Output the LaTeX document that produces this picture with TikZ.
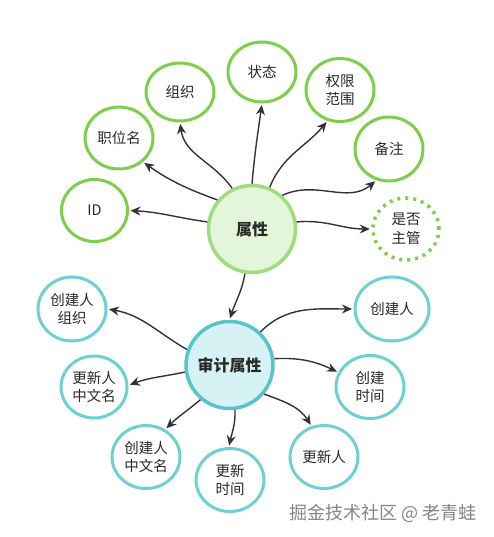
\documentclass[tikz,border=0pt]{standalone}
\usepackage{fontspec}
\setmainfont{Noto Sans CJK SC}
\usetikzlibrary{arrows.meta,shapes.geometric,shadows}
\definecolor{gborder}{HTML}{7DCF4A}
\definecolor{gcenter}{HTML}{9EDC7E}
\definecolor{gfill}{HTML}{E3F6D9}
\definecolor{tborder}{HTML}{6DD0D3}
\definecolor{tcenter}{HTML}{55C5C9}
\definecolor{tfill}{HTML}{D6F2F4}
\definecolor{txt}{HTML}{2A2A2A}
\definecolor{edge}{HTML}{333333}
\definecolor{wmgray}{HTML}{858585}
\tikzset{
  leafg/.style={ellipse,draw=gborder,line width=3pt,fill=white,minimum width=#1,minimum height=62pt,inner sep=0pt,align=center,font=\fontsize{14.5}{18.5}\selectfont,text=txt},
  leafg/.default=66pt,
  leaft/.style={ellipse,draw=tborder,line width=3pt,fill=white,minimum width=#1,minimum height=62pt,inner sep=0pt,align=center,font=\fontsize{14.5}{18.5}\selectfont,text=txt},
  leaft/.default=66pt,
  hubg/.style={circle,draw=gcenter,line width=3.5pt,fill=gfill,minimum size=87pt,inner sep=0pt,font=\fontsize{16}{19}\selectfont\bfseries,text=txt},
  hubt/.style={circle,draw=tcenter,line width=3.5pt,fill=tfill,minimum size=87pt,inner sep=0pt,font=\fontsize{16}{19}\selectfont\bfseries,text=txt},
  conn/.style={draw=edge,line width=1.4pt,-{Stealth[length=10pt,width=9pt]},shorten >=1.5pt},
}
\begin{document}
\begin{tikzpicture}[x=1pt,y=1pt]
\useasboundingbox (0,0) rectangle (494,-537);
% hubs
\node[hubg] (attr) at (252,-229) {属性};
\node[hubt] (audit) at (229.5,-365) {审计属性};
% green leaves
\node[leafg] (id) at (94.5,-210.5) {ID};
\node[leafg=68pt] (pos) at (119,-138) {职位名};
\node[leafg=68pt,minimum height=58pt] (org) at (180,-92) {组织};
\node[leafg=68pt,minimum height=60pt] (state) at (262,-72) {状态};
\node[leafg=68pt,minimum height=63pt] (perm) at (340,-90) {权限\\范围};
\node[leafg=68pt,minimum height=64pt] (note) at (389,-149) {备注};
\node[leafg=66pt,minimum height=62pt,draw=gborder,dash pattern=on 3pt off 5pt,line width=3.5pt] (mgr) at (406,-229) {是否\\主管};
% teal leaves
\node[leaft=68pt,minimum height=64pt] (corg) at (72,-309) {创建人\\组织};
\node[leaft=66pt] (uname) at (94,-387) {更新人\\中文名};
\node[leaft=68pt,minimum height=63pt] (cname) at (146,-457) {创建人\\中文名};
\node[leaft=68pt,minimum height=63pt] (utime) at (230,-480) {更新\\时间};
\node[leaft=68pt,minimum height=63pt] (uby) at (324,-457) {更新人};
\node[leaft=68pt,minimum height=63pt] (ctime) at (370,-387) {创建\\时间};
\node[leaft=74pt,minimum height=64pt] (cby) at (392,-309) {创建人};
% connectors from 属性
\draw[conn] (attr.171) to[out=172,in=-3] (id.0);
\draw[conn] (attr.140) to[out=160,in=-35] (pos.-45);
\draw[conn] (attr.116) to[out=125,in=-82] (org.-90);
\draw[conn] (attr.90) to[out=85,in=-98] (state.-90);
\draw[conn] (attr.67) to[out=68,in=-130] (perm.-112);
\draw[conn] (attr.48) to[out=25,in=-140] (note.-112);
\draw[conn] (attr.9) to[out=5,in=180] (mgr.180);
\draw[conn] (attr.-99) to[out=-100,in=72] (audit.90);
% connectors from 审计属性
\draw[conn] (audit.160) to[out=150,in=-10] (corg.0);
\draw[conn] (audit.189) to[out=-168,in=20] (uname.3);
\draw[conn] (audit.-130) to[out=-140,in=45] (cname.55);
\draw[conn] (audit.-83) to[out=-88,in=78] (utime.92);
\draw[conn] (audit.-40) to[out=-20,in=122] (uby.112);
\draw[conn] (audit.8) to[out=3,in=155] (ctime.155);
\draw[conn] (audit.47) to[out=45,in=180] (cby.180);
% watermark
\node[font=\fontsize{18}{21}\selectfont,text=wmgray,anchor=center] (wm) at (383,-513) {掘金技术社区 @ 老青蛙};
\end{tikzpicture}
\end{document}
